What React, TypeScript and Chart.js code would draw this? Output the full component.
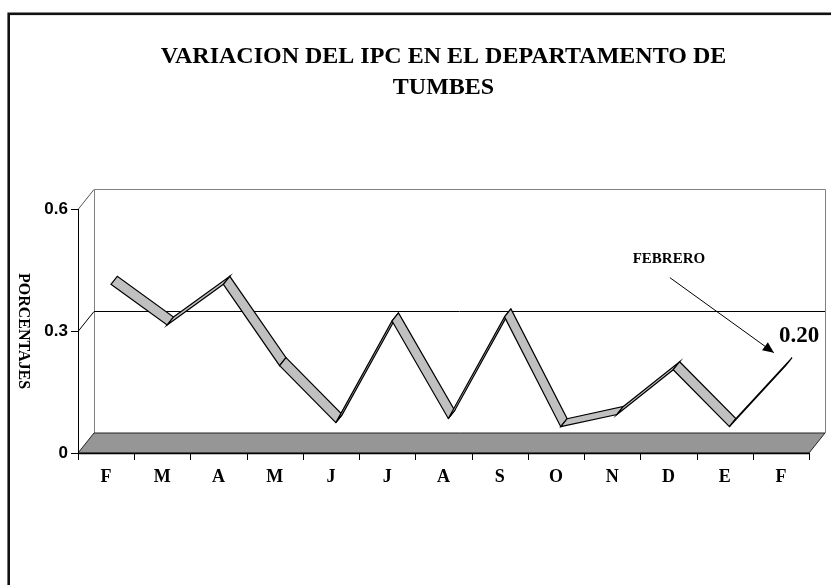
import React, { useEffect, useRef } from "react";
import { Chart, registerables } from "chart.js";

Chart.register(...registerables);

const CATEGORIES = ["F", "M", "A", "M", "J", "J", "A", "S", "O", "N", "D", "E", "F"];
const IPC_VALUES = [0.4, 0.3, 0.4, 0.2, 0.06, 0.31, 0.07, 0.32, 0.05, 0.08, 0.19, 0.05, 0.2];
const Y_TICKS = [0, 0.3, 0.6];
const TITLE_LINES = ["VARIACION DEL IPC EN EL DEPARTAMENTO DE", "TUMBES"];
const Y_TITLE = "PORCENTAJES";
const ANNOTATION = "FEBRERO";

const SERIF = "'Liberation Serif', 'Times New Roman', serif";
const SANS = "'Liberation Sans', Arial, sans-serif";
const DEPTH = { x: 16, y: -20 };

const decorPlugin = {
  id: "decor3d",
  beforeDatasetsDraw(chart: any) {
    const { ctx, chartArea } = chart;
    const xs = chart.scales.x;
    const ys = chart.scales.y;
    const L = chartArea.left;
    const R = chartArea.right;
    const y0 = ys.getPixelForValue(0);
    const yTop = ys.getPixelForValue(Y_TICKS[Y_TICKS.length - 1]);
    ctx.save();
    // outer border
    ctx.strokeStyle = "#111";
    ctx.lineWidth = 2.6;
    ctx.strokeRect(8.7, 13.8, 900, 900);

    // back wall
    ctx.lineWidth = 1;
    ctx.strokeStyle = "#808080";
    ctx.beginPath();
    ctx.moveTo(L + DEPTH.x + 0.5, y0 + DEPTH.y);
    ctx.lineTo(L + DEPTH.x + 0.5, yTop + DEPTH.y + 0.5);
    ctx.lineTo(R + DEPTH.x + 0.5, yTop + DEPTH.y + 0.5);
    ctx.lineTo(R + DEPTH.x + 0.5, y0 + DEPTH.y);
    ctx.stroke();

    // gridlines (back wall + left wall diagonals)
    Y_TICKS.forEach((v) => {
      const py = Math.round(ys.getPixelForValue(v)) + 0.5;
      if (v > 0 && v < Y_TICKS[Y_TICKS.length - 1]) {
        ctx.strokeStyle = "#000";
        ctx.beginPath();
        ctx.moveTo(L + DEPTH.x, py + DEPTH.y);
        ctx.lineTo(R + DEPTH.x, py + DEPTH.y);
        ctx.stroke();
      }
      if (v > 0) {
        ctx.strokeStyle = v < Y_TICKS[Y_TICKS.length - 1] ? "#000" : "#555";
        ctx.beginPath();
        ctx.moveTo(L, py);
        ctx.lineTo(L + DEPTH.x, py + DEPTH.y);
        ctx.stroke();
      }
    });

    // floor
    ctx.fillStyle = "#969696";
    ctx.strokeStyle = "#222";
    ctx.beginPath();
    ctx.moveTo(L, y0);
    ctx.lineTo(R, y0);
    ctx.lineTo(R + DEPTH.x, y0 + DEPTH.y);
    ctx.lineTo(L + DEPTH.x, y0 + DEPTH.y);
    ctx.closePath();
    ctx.fill();
    ctx.stroke();

    // front y axis
    ctx.strokeStyle = "#000";
    ctx.lineWidth = 1;
    ctx.beginPath();
    ctx.moveTo(L + 0.5, yTop);
    ctx.lineTo(L + 0.5, y0);
    ctx.stroke();
    ctx.font = `bold 17px ${SANS}`;
    ctx.fillStyle = "#000";
    ctx.textAlign = "right";
    ctx.textBaseline = "middle";
    Y_TICKS.forEach((v) => {
      const py = Math.round(ys.getPixelForValue(v)) + 0.5;
      ctx.beginPath();
      ctx.moveTo(L - 7, py);
      ctx.lineTo(L, py);
      ctx.stroke();
      ctx.fillText(String(v), L - 10, py);
    });

    // x axis
    ctx.lineWidth = 1.3;
    ctx.beginPath();
    ctx.moveTo(L, Math.round(y0) + 0.5);
    ctx.lineTo(R, Math.round(y0) + 0.5);
    ctx.stroke();
    ctx.lineWidth = 1;
    const n = CATEGORIES.length;
    const step = (R - L) / n;
    for (let i = 0; i <= n; i++) {
      const px = Math.round(L + i * step) + 0.5;
      ctx.beginPath();
      ctx.moveTo(px, y0);
      ctx.lineTo(px, y0 + 7);
      ctx.stroke();
    }
    ctx.font = `bold 18px ${SERIF}`;
    ctx.textAlign = "center";
    CATEGORIES.forEach((c, i) => {
      ctx.fillText(c, xs.getPixelForValue(i), y0 + 24);
    });

    // y title
    ctx.save();
    ctx.translate(23, (yTop + y0) / 2);
    ctx.rotate(Math.PI / 2);
    ctx.font = `bold 16px ${SERIF}`;
    ctx.textAlign = "center";
    ctx.textBaseline = "middle";
    ctx.fillText(Y_TITLE, 0, 0);
    ctx.restore();
    ctx.restore();
  },
  afterDatasetsDraw(chart: any) {
    const { ctx } = chart;
    const meta = chart.getDatasetMeta(0);
    const pts = meta.data.map((p: any) => ({ x: p.x, y: p.y }));
    const f1 = 0.3;
    const f2 = 0.7;
    ctx.save();
    ctx.lineWidth = 1.2;
    ctx.strokeStyle = "#000";
    ctx.fillStyle = "#C0C0C0";
    ctx.lineJoin = "miter";
    for (let i = 0; i < pts.length - 1; i++) {
      const a = pts[i];
      const b = pts[i + 1];
      ctx.beginPath();
      ctx.moveTo(a.x + DEPTH.x * f1, a.y + DEPTH.y * f1);
      ctx.lineTo(b.x + DEPTH.x * f1, b.y + DEPTH.y * f1);
      ctx.lineTo(b.x + DEPTH.x * f2, b.y + DEPTH.y * f2);
      ctx.lineTo(a.x + DEPTH.x * f2, a.y + DEPTH.y * f2);
      ctx.closePath();
      ctx.fill();
      ctx.stroke();
    }
    // annotation
    const last = pts[pts.length - 1];
    ctx.fillStyle = "#000";
    ctx.lineWidth = 1;
    ctx.font = `bold 15px ${SERIF}`;
    ctx.textAlign = "center";
    ctx.textBaseline = "middle";
    ctx.fillText(ANNOTATION, last.x - 112, last.y - 113);
    const sx = last.x - 111;
    const sy = last.y - 94;
    const tx = last.x - 7;
    const ty = last.y - 19;
    ctx.beginPath();
    ctx.moveTo(sx, sy);
    ctx.lineTo(tx, ty);
    ctx.stroke();
    const ang = Math.atan2(ty - sy, tx - sx);
    const hl = 11;
    const hw = 5;
    ctx.beginPath();
    ctx.moveTo(tx, ty);
    ctx.lineTo(tx - hl * Math.cos(ang) + hw * Math.sin(ang), ty - hl * Math.sin(ang) - hw * Math.cos(ang));
    ctx.lineTo(tx - hl * Math.cos(ang) - hw * Math.sin(ang), ty - hl * Math.sin(ang) + hw * Math.cos(ang));
    ctx.closePath();
    ctx.fill();
    // value label
    ctx.font = `bold 23px ${SERIF}`;
    ctx.textAlign = "left";
    ctx.fillText(IPC_VALUES[IPC_VALUES.length - 1].toFixed(2), last.x - 2, last.y - 36);
    ctx.restore();
  },
};

export default function App() {
  const ref = useRef<HTMLCanvasElement | null>(null);
  useEffect(() => {
    if (!ref.current) return;
    const chart = new Chart(ref.current, {
      type: "line",
      data: {
        labels: CATEGORIES,
        datasets: [
          {
            label: "IPC",
            data: IPC_VALUES,
            showLine: false,
            pointRadius: 0,
            pointHoverRadius: 0,
          },
        ],
      },
      options: {
        responsive: false,
        animation: false,
        devicePixelRatio: 1,
        events: [],
        layout: { padding: { left: 78, right: 22, top: 0, bottom: 132 }, autoPadding: false },
        scales: {
          x: { type: "category", offset: true, display: false },
          y: { min: 0, max: 0.6, display: false, ticks: { stepSize: 0.3 } },
        },
        plugins: {
          legend: { display: false },
          tooltip: { enabled: false },
          title: {
            display: true,
            text: TITLE_LINES,
            color: "#000",
            font: { family: SERIF, size: 24, weight: "bold", lineHeight: 31 / 24 },
            padding: { top: 41, bottom: 106 },
          },
        },
      } as any,
      plugins: [decorPlugin],
    });
    return () => chart.destroy();
  }, []);
  return (
    <div style={{ position: "fixed", left: 0, top: 0, width: 831, height: 585, background: "#fff" }}>
      <canvas ref={ref} width={831} height={585} style={{ display: "block" }} />
    </div>
  );
}
